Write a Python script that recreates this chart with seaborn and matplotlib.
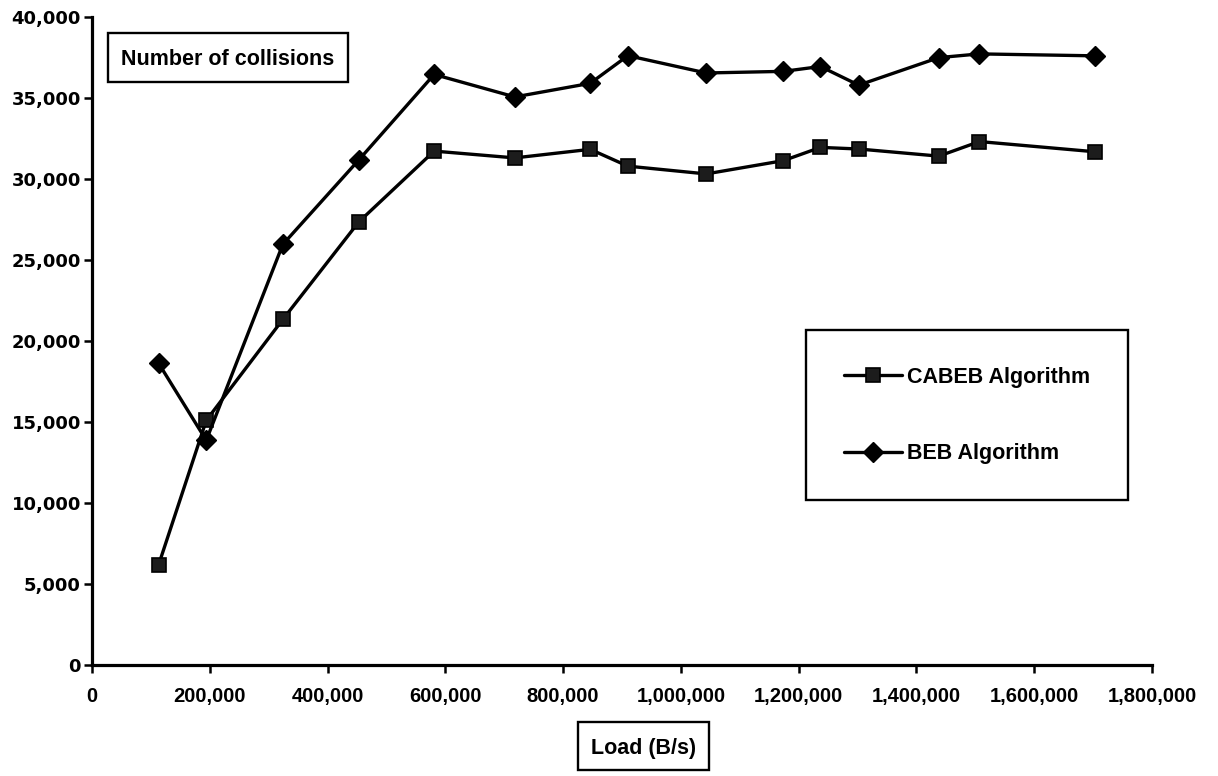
import matplotlib
matplotlib.use("Agg")
import matplotlib.pyplot as plt
import matplotlib.patches as mpatches
from matplotlib.ticker import FuncFormatter, MultipleLocator
from matplotlib.font_manager import FontProperties
import seaborn as sns
import pandas as pd

# Offered load (bytes per second) at each simulation run
load = [113000, 194000, 324000, 453000, 581000, 718000, 846000, 910000,
        1043000, 1174000, 1237000, 1302000, 1438000, 1507000, 1703000]

# Number of collisions observed for each back-off algorithm
cabeb = [6150, 15090, 21330, 27360, 31740, 31320, 31850, 30810,
         30330, 31150, 31970, 31870, 31430, 32330, 31700]
beb = [18630, 13860, 25970, 31190, 36480, 35090, 35930, 37640,
       36570, 36670, 36970, 35820, 37520, 37750, 37630]

series_names = ["CABEB Algorithm", "BEB Algorithm"]
y_title = "Number of collisions"
x_title = "Load (B/s)"

sns.set_theme(style="white")
plt.rcParams["font.family"] = ["Liberation Sans", "DejaVu Sans"]
plt.rcParams["text.color"] = "black"

W, H = 1218, 776
fig = plt.figure(figsize=(W / 100, H / 100), dpi=100)
fig.patch.set_facecolor("white")


def fx(x):
    return x / W


def fy(y):
    return 1 - y / H


ax_left, ax_right, ax_top, ax_bottom = 92, 1152, 17.5, 664.5
ax = fig.add_axes([fx(ax_left), fy(ax_bottom),
                   (ax_right - ax_left) / W, (ax_bottom - ax_top) / H])
ax.set_facecolor("white")

df = pd.DataFrame({"load": load, "cabeb": cabeb, "beb": beb})

sns.lineplot(data=df, x="load", y="cabeb", ax=ax, color="black", lw=2.4,
             marker="s", markersize=9.5, markerfacecolor="#1c1c1c",
             markeredgecolor="black", markeredgewidth=1.2,
             label=series_names[0], clip_on=False)
sns.lineplot(data=df, x="load", y="beb", ax=ax, color="black", lw=2.4,
             marker="D", markersize=10, markerfacecolor="black",
             markeredgecolor="black", markeredgewidth=1.0,
             label=series_names[1], clip_on=False)

ax.set_xlim(0, 1800000)
ax.set_ylim(0, 40000)
ax.xaxis.set_major_locator(MultipleLocator(200000))
ax.yaxis.set_major_locator(MultipleLocator(5000))
fmt = FuncFormatter(lambda v, p: f"{int(round(v)):,}")
ax.xaxis.set_major_formatter(fmt)
ax.yaxis.set_major_formatter(fmt)
ax.set_xlabel("")
ax.set_ylabel("")

for side in ("top", "right"):
    ax.spines[side].set_visible(False)
for side in ("left", "bottom"):
    ax.spines[side].set_color("black")
    ax.spines[side].set_linewidth(2.3)

ax.tick_params(axis="both", direction="out", length=6, width=1.8,
               color="black", left=True, bottom=True)
ax.tick_params(axis="x", pad=10)
ax.tick_params(axis="y", pad=2)

xfont = FontProperties(family="Liberation Sans", weight="bold", size=14.5)
yfont = FontProperties(family="DejaVu Sans", weight="bold", size=13)
for lbl in ax.get_xticklabels():
    lbl.set_fontproperties(xfont)
    lbl.set_color("black")
for lbl in ax.get_yticklabels():
    lbl.set_fontproperties(yfont)
    lbl.set_color("black")

# Legend inside a framed box
box_font = FontProperties(family="Liberation Sans", weight="bold", size=15.5)
lx0, ly0, lx1, ly1 = 806, 330, 1128, 500
fig.patches.append(mpatches.Rectangle(
    (fx(lx0), fy(ly1)), (lx1 - lx0) / W, (ly1 - ly0) / H,
    transform=fig.transFigure, fill=False, edgecolor="black", lw=1.7))
leg = ax.legend(loc="center", bbox_to_anchor=(fx((lx0 + lx1) / 2), fy(415.5)),
                bbox_transform=fig.transFigure, frameon=False, prop=box_font,
                handlelength=2.7, handletextpad=0.2, labelspacing=2.6,
                markerscale=1.0)
for t in leg.get_texts():
    t.set_color("black")

# Axis titles drawn as framed captions
def framed_caption(text, x0, y0, x1, y1):
    fig.patches.append(mpatches.Rectangle(
        (fx(x0), fy(y1)), (x1 - x0) / W, (y1 - y0) / H,
        transform=fig.transFigure, fill=False, edgecolor="black", lw=1.7))
    fig.text(fx((x0 + x1) / 2), fy((y0 + y1) / 2), text, ha="center",
             va="center_baseline", fontproperties=box_font, color="black")


framed_caption(y_title, 108, 32.5, 348, 82)
framed_caption(x_title, 578, 722, 709, 770)

fig.savefig("out.png", dpi=100, facecolor="white")
